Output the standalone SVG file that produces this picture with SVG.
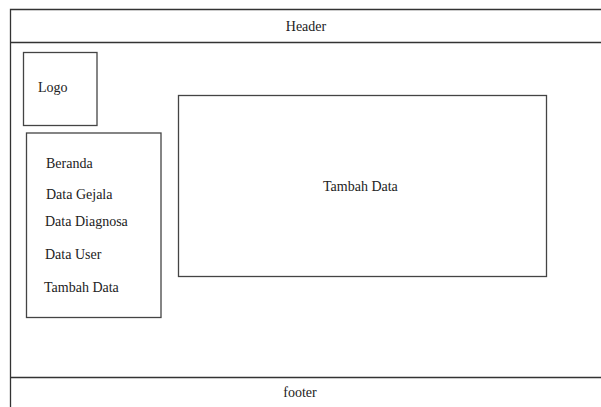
<svg xmlns="http://www.w3.org/2000/svg" width="601" height="407" viewBox="0 0 601 407">
  <style>
    .box { fill: none; stroke: #444; stroke-width: 1.3; }
    .frame { fill: none; stroke: #333; stroke-width: 1.3; }
    .lbl { font-family: "Liberation Serif", "Times New Roman", serif; font-size: 14px; fill: #222; }
    .mid { text-anchor: middle; }
  </style>
  <rect width="601" height="407" fill="#fff"/>

  <!-- page frame with header and footer bands -->
  <g id="frame">
    <path class="frame" d="M10.5,420 V9.5 H620"/>
    <line class="frame" x1="10" y1="42.5" x2="601" y2="42.5"/>
    <line class="frame" x1="10" y1="377.5" x2="601" y2="377.5"/>
  </g>

  <g id="header">
    <text class="lbl mid" x="306" y="31">Header</text>
  </g>

  <g id="logo">
    <rect class="box" x="23.5" y="52.5" width="73.5" height="73"/>
    <text class="lbl" x="38" y="92">Logo</text>
  </g>

  <g id="menu">
    <rect class="box" x="26.5" y="133" width="134.5" height="184.5"/>
    <text class="lbl" x="46" y="168">Beranda</text>
    <text class="lbl" x="46" y="199">Data Gejala</text>
    <text class="lbl" x="45" y="226">Data Diagnosa</text>
    <text class="lbl" x="45" y="259">Data User</text>
    <text class="lbl" x="44" y="292">Tambah Data</text>
  </g>

  <g id="content">
    <rect class="box" x="178.5" y="95.5" width="368" height="181"/>
    <text class="lbl" x="323" y="191">Tambah Data</text>
  </g>

  <g id="footer">
    <text class="lbl mid" x="300" y="397">footer</text>
  </g>

  <g id="connectors"/>
</svg>
